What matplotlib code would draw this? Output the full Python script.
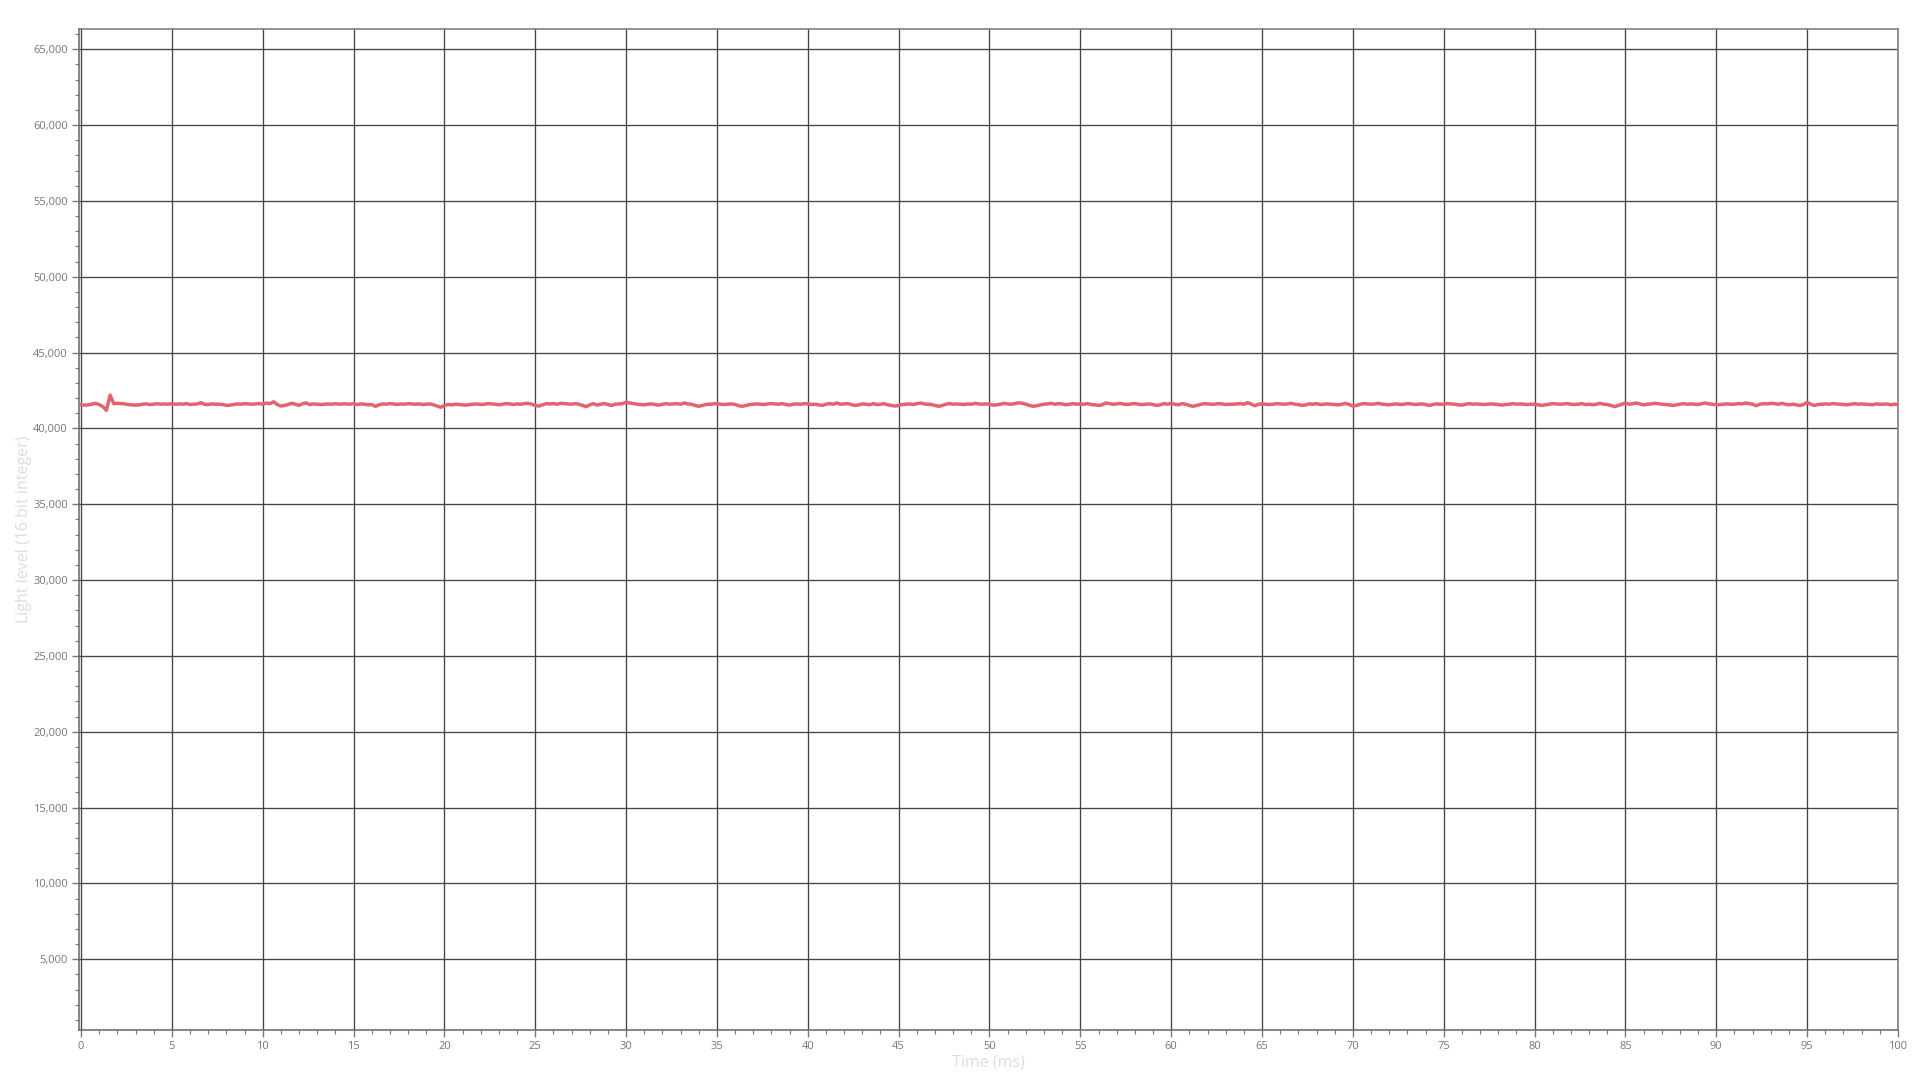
import numpy as np
import matplotlib
matplotlib.use("Agg")
import matplotlib.pyplot as plt
from matplotlib.ticker import MultipleLocator, FuncFormatter

plt.rcParams['font.family'] = ['Open Sans', 'DejaVu Sans']

sample_interval_ms = 0.2
light_level = [
    41560, 41540, 41560, 41600, 41660, 41580, 41440, 41200, 42200, 41640, 41660, 41640, 41620, 41580, 41560, 41540, 41560, 41600, 41620, 41580, 41600, 41640, 41600, 41620, 41600,
    41640, 41600, 41620, 41600, 41640, 41580, 41600, 41620, 41700, 41600, 41580, 41620, 41600, 41600, 41580, 41520, 41540, 41580, 41620, 41600, 41640, 41620, 41600, 41620, 41640,
    41600, 41680, 41640, 41760, 41580, 41480, 41520, 41580, 41660, 41600, 41520, 41640, 41680, 41580, 41620, 41600, 41580, 41600, 41620, 41600, 41640, 41600, 41620, 41620, 41600,
    41640, 41580, 41620, 41600, 41560, 41580, 41460, 41560, 41620, 41600, 41640, 41620, 41580, 41620, 41600, 41640, 41620, 41600, 41620, 41580, 41600, 41620, 41560, 41480, 41400,
    41520, 41580, 41560, 41600, 41580, 41560, 41540, 41580, 41600, 41620, 41580, 41600, 41640, 41620, 41600, 41560, 41600, 41640, 41620, 41580, 41620, 41600, 41640, 41660, 41600,
    41520, 41480, 41560, 41640, 41620, 41640, 41600, 41660, 41640, 41620, 41600, 41640, 41600, 41520, 41440, 41560, 41640, 41540, 41600, 41640, 41580, 41520, 41600, 41620, 41640,
    41720, 41680, 41640, 41600, 41580, 41560, 41600, 41620, 41580, 41540, 41600, 41640, 41600, 41620, 41640, 41600, 41680, 41620, 41600, 41520, 41460, 41520, 41580, 41600, 41620,
    41640, 41600, 41580, 41600, 41620, 41580, 41500, 41460, 41520, 41580, 41600, 41620, 41600, 41580, 41620, 41640, 41620, 41600, 41640, 41580, 41540, 41600, 41620, 41600, 41640,
    41620, 41580, 41600, 41560, 41520, 41600, 41640, 41600, 41680, 41600, 41620, 41640, 41580, 41520, 41560, 41620, 41600, 41560, 41640, 41580, 41600, 41640, 41560, 41520, 41480,
    41520, 41580, 41600, 41620, 41580, 41640, 41680, 41620, 41600, 41580, 41520, 41460, 41520, 41600, 41640, 41600, 41620, 41600, 41580, 41620, 41600, 41660, 41620, 41600, 41620,
    41600, 41540, 41560, 41600, 41660, 41620, 41600, 41640, 41700, 41660, 41600, 41520, 41460, 41500, 41560, 41600, 41620, 41660, 41600, 41640, 41620, 41560, 41600, 41640, 41600,
    41620, 41600, 41640, 41580, 41560, 41520, 41560, 41680, 41640, 41600, 41620, 41660, 41600, 41580, 41620, 41640, 41600, 41580, 41600, 41620, 41580, 41520, 41560, 41640, 41600,
    41660, 41600, 41560, 41640, 41600, 41520, 41460, 41520, 41580, 41640, 41620, 41600, 41600, 41640, 41620, 41580, 41600, 41600, 41620, 41640, 41600, 41700, 41620, 41500, 41600,
    41620, 41600, 41580, 41600, 41640, 41620, 41600, 41620, 41660, 41600, 41580, 41520, 41560, 41620, 41600, 41640, 41580, 41600, 41620, 41600, 41580, 41560, 41600, 41660, 41580,
    41480, 41520, 41600, 41640, 41620, 41600, 41620, 41660, 41600, 41580, 41560, 41600, 41620, 41580, 41600, 41640, 41620, 41580, 41600, 41620, 41580, 41520, 41580, 41620, 41600,
    41600, 41640, 41620, 41600, 41560, 41540, 41600, 41640, 41600, 41620, 41600, 41580, 41600, 41620, 41600, 41580, 41540, 41580, 41600, 41640, 41600, 41620, 41600, 41580, 41600,
    41600, 41560, 41520, 41560, 41600, 41640, 41620, 41600, 41620, 41640, 41600, 41580, 41600, 41640, 41580, 41600, 41560, 41600, 41660, 41600, 41580, 41520, 41440, 41520, 41600,
    41680, 41600, 41640, 41680, 41620, 41560, 41600, 41620, 41660, 41640, 41600, 41580, 41560, 41520, 41560, 41600, 41640, 41600, 41620, 41600, 41580, 41640, 41680, 41620, 41600,
    41560, 41580, 41600, 41620, 41600, 41600, 41640, 41620, 41680, 41640, 41600, 41500, 41600, 41640, 41620, 41660, 41640, 41600, 41660, 41600, 41560, 41600, 41560, 41520, 41580,
    41720, 41600, 41520, 41580, 41600, 41620, 41600, 41640, 41620, 41600, 41580, 41560, 41600, 41640, 41600, 41620, 41600, 41580, 41560, 41620, 41600, 41600, 41620, 41560, 41600,
    41580,
]
time_ms = np.arange(len(light_level)) * sample_interval_ms

x_label = "Time (ms)"
y_label = "Light level (16 bit integer)"

W, H = 1920, 1080
fig = plt.figure(figsize=(W / 100, H / 100), dpi=100)
left, right, top, bottom = 79, 1898, 29, 1030
ax = fig.add_axes([left / W, 1 - bottom / H, (right - left) / W, (bottom - top) / H])

ax.plot(time_ms, light_level, color="#E3646F", lw=2.5, solid_joinstyle="round", zorder=3)

ax.set_xlim(-0.11, 100)
ax.set_ylim(340, 66340)

ax.xaxis.set_major_locator(MultipleLocator(5))
ax.xaxis.set_minor_locator(MultipleLocator(1))
ax.yaxis.set_major_locator(MultipleLocator(5000))
ax.yaxis.set_minor_locator(MultipleLocator(1000))
ax.yaxis.set_major_formatter(FuncFormatter(lambda v, p: f"{int(v):,}" if v > 0 else ""))
ax.xaxis.set_major_formatter(FuncFormatter(lambda v, p: f"{v:g}"))

ax.grid(True, which="major", color="#444444", lw=0.95)
ax.set_axisbelow(True)

for s in ["top", "right"]:
    ax.spines[s].set_color("#777777")
    ax.spines[s].set_linewidth(1.1)
for s in ["left", "bottom"]:
    ax.spines[s].set_color("#666666")
    ax.spines[s].set_linewidth(1.1)

ax.tick_params(which="major", length=5, width=1, color="#777777", labelsize=8, labelcolor="#777777", pad=3)
ax.tick_params(which="minor", length=3, width=0.8, color="#777777")

ax.set_xlabel(x_label, fontsize=11.5, color="#dddddd", labelpad=2)
ax.set_ylabel(y_label, fontsize=11.5, color="#dddddd", labelpad=1)

fig.savefig("out.png", dpi=100, facecolor="white")
